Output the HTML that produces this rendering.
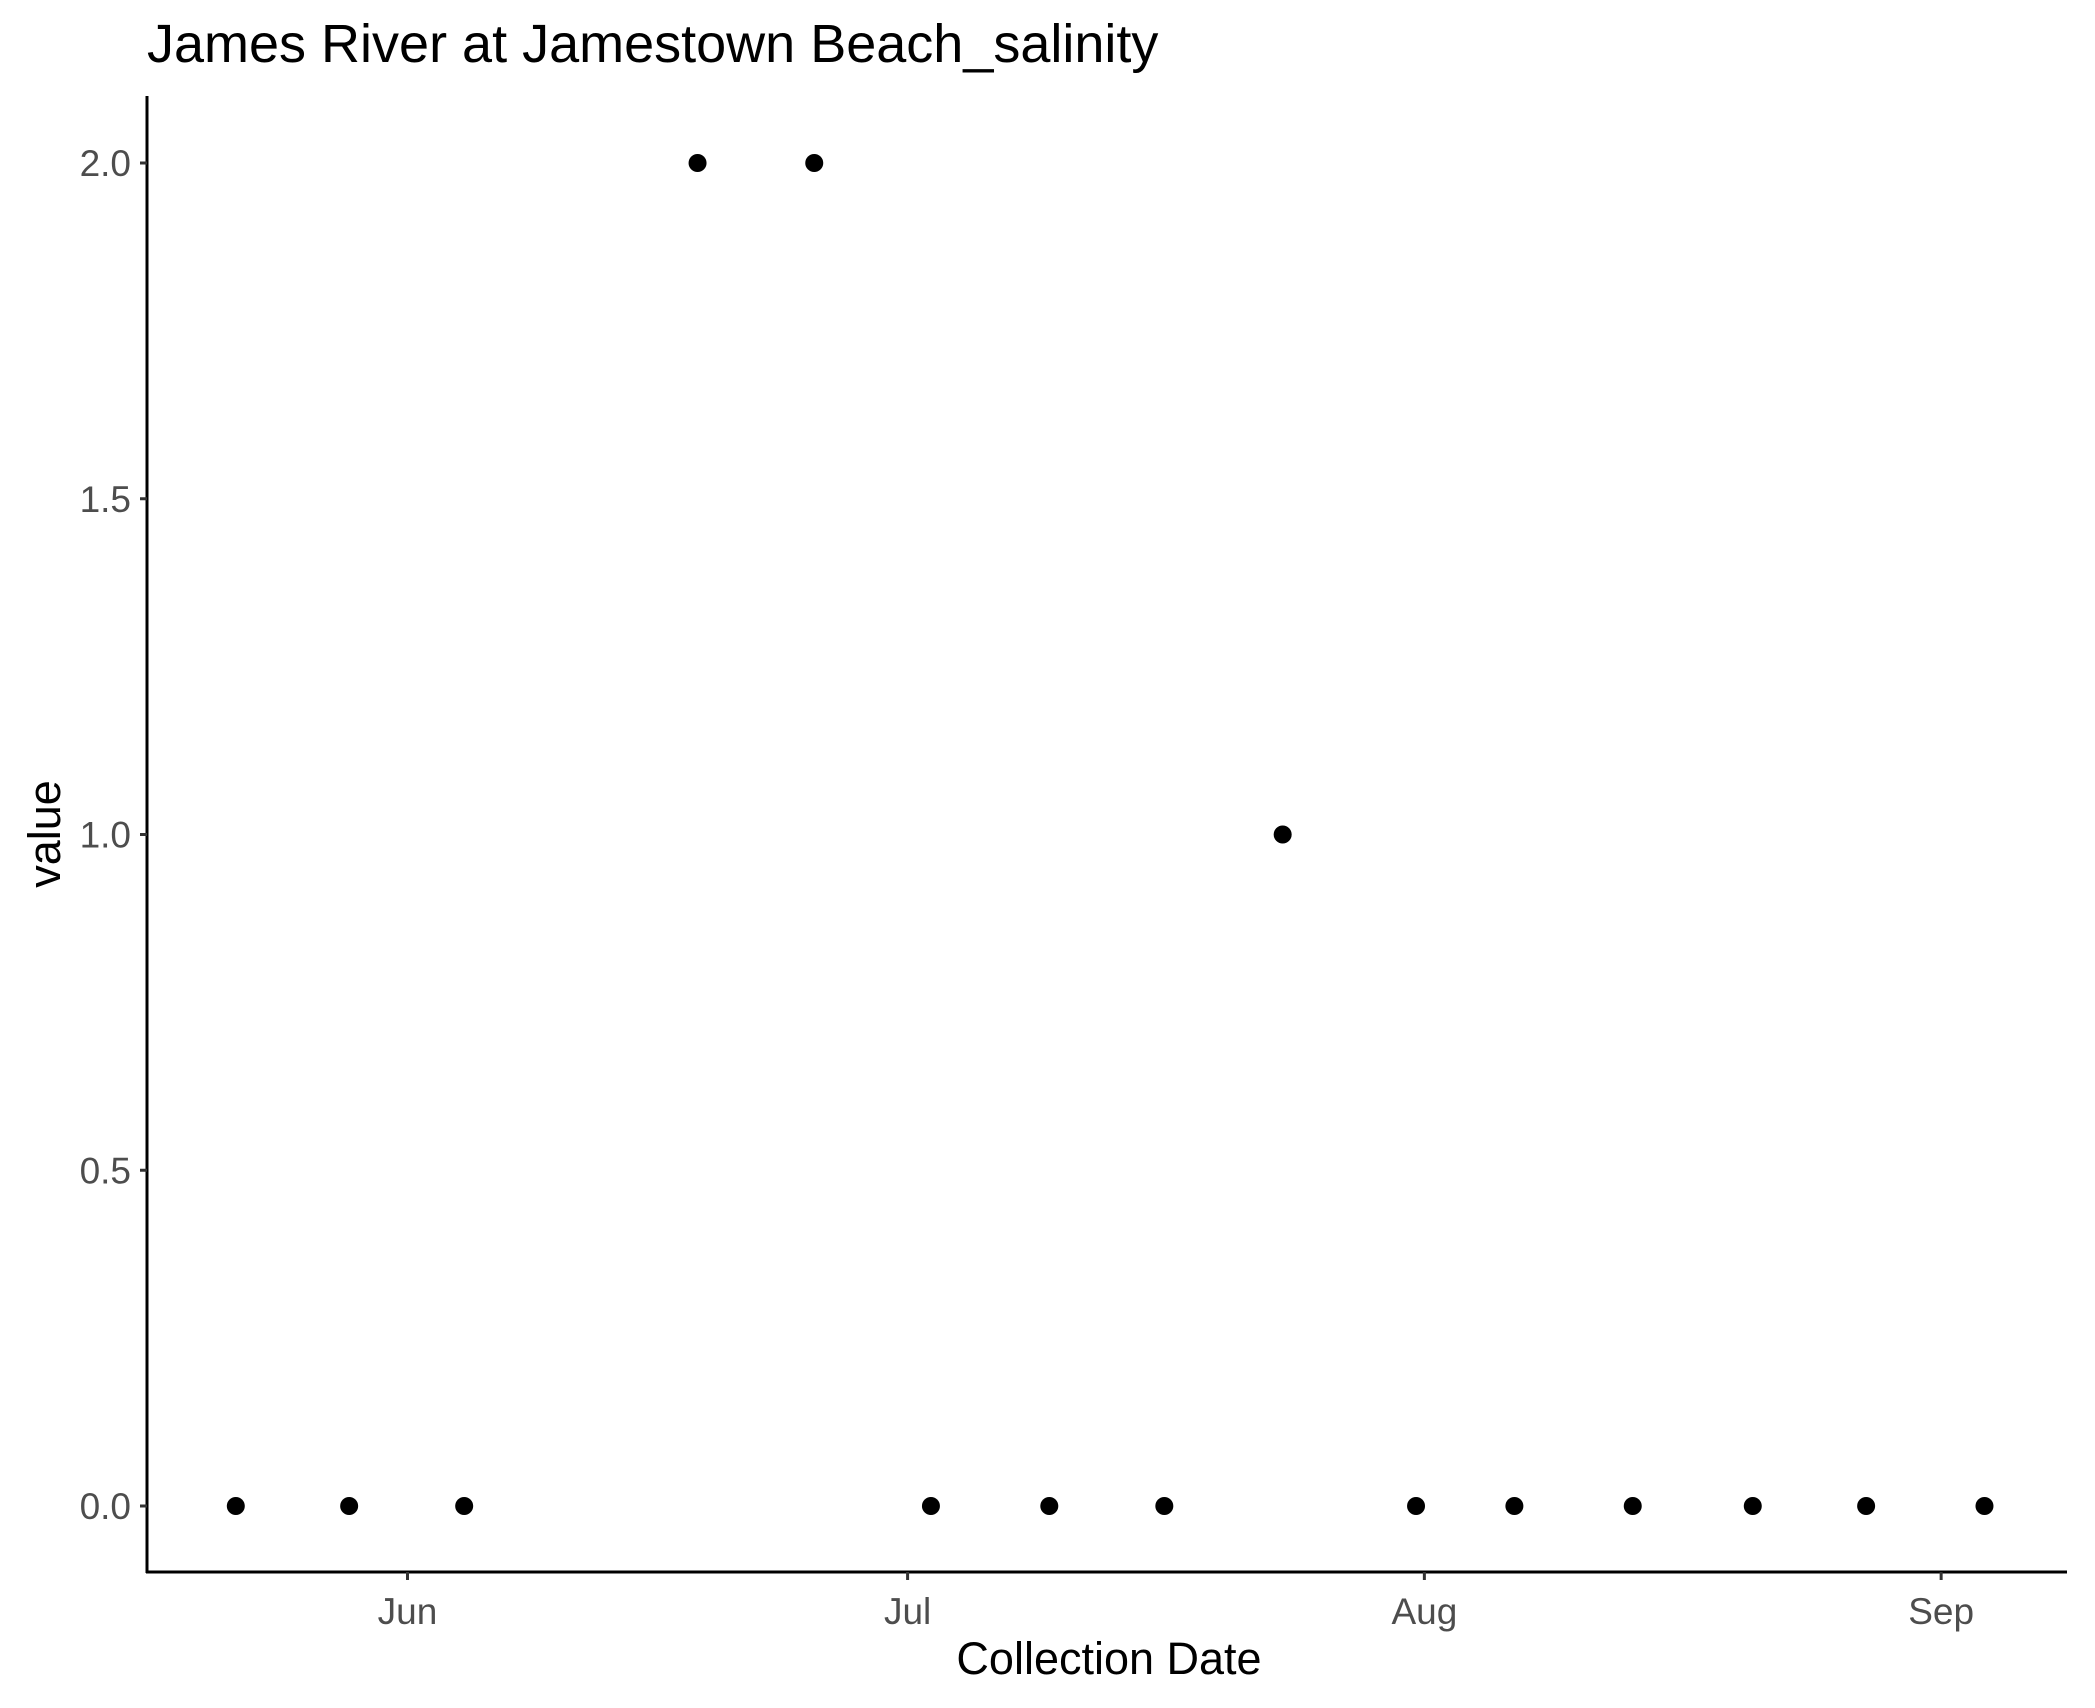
<!DOCTYPE html>
<html><head><meta charset="utf-8"><style>
html,body{margin:0;padding:0;background:#fff;}
svg{display:block;font-family:"Liberation Sans",sans-serif;}
</style></head><body>
<svg id="chart" width="2095" height="1708">
<text x="147" y="62" font-size="54" fill="#000">James River at Jamestown Beach_salinity</text>
<line x1="147" y1="96" x2="147" y2="1573" stroke="#000" stroke-width="3"/>
<line x1="146" y1="1572" x2="2067" y2="1572" stroke="#000" stroke-width="3"/>
<text x="1109" y="1674" font-size="45" text-anchor="middle">Collection Date</text>
<text transform="translate(60,834) rotate(-90)" font-size="45" text-anchor="middle">value</text>
<g id="yticks"></g><g id="xticks"></g><g id="points"></g>
</svg>
<script>
const dayOffsets=[-10.3,-3.5,3.4,17.4,24.4,31.4,38.5,45.4,52.5,60.5,66.4,73.5,80.7,87.5,94.6];
const values=[0,0,0,2,2,0,0,0,1,0,0,0,0,0,0];
const yTicks=[0,0.5,1,1.5,2];
const yTickLabels=["0.0","0.5","1.0","1.5","2.0"];
const xTickDays=[0,30,61,92];
const xTickLabels=["Jun","Jul","Aug","Sep"];
const ns="http://www.w3.org/2000/svg";
const X=d=>407.5+d*16.67;
const Y=v=>1506-v*(1506-163)/2;
function mk(tag,attrs,parent){const e=document.createElementNS(ns,tag);for(const k in attrs)e.setAttribute(k,attrs[k]);parent.appendChild(e);return e;}
const yg=document.getElementById('yticks'),xg=document.getElementById('xticks'),pg=document.getElementById('points');
yTicks.forEach((v,i)=>{
 const l=mk('line',{x1:140,x2:147,y1:Y(v),y2:Y(v),stroke:'#333','stroke-width':3},yg);
 
 
 const t=mk('text',{x:131,y:Y(v)+13,'font-size':37,fill:'#4d4d4d','text-anchor':'end'},yg);
 t.textContent=yTickLabels[i];
 
 
});
xTickDays.forEach((d,i)=>{
 const l=mk('line',{x1:X(d),x2:X(d),y1:1572,y2:1580,stroke:'#333','stroke-width':3},xg);
 
 
 const t=mk('text',{x:X(d),y:1624,'font-size':37,fill:'#4d4d4d','text-anchor':'middle'},xg);
 t.textContent=xTickLabels[i];
 
 
});
dayOffsets.forEach((d,i)=>{
 const c=mk('circle',{cx:X(d),cy:Y(values[i]),r:9,fill:'#000'},pg);
 
 
});
</script>
</body></html>
